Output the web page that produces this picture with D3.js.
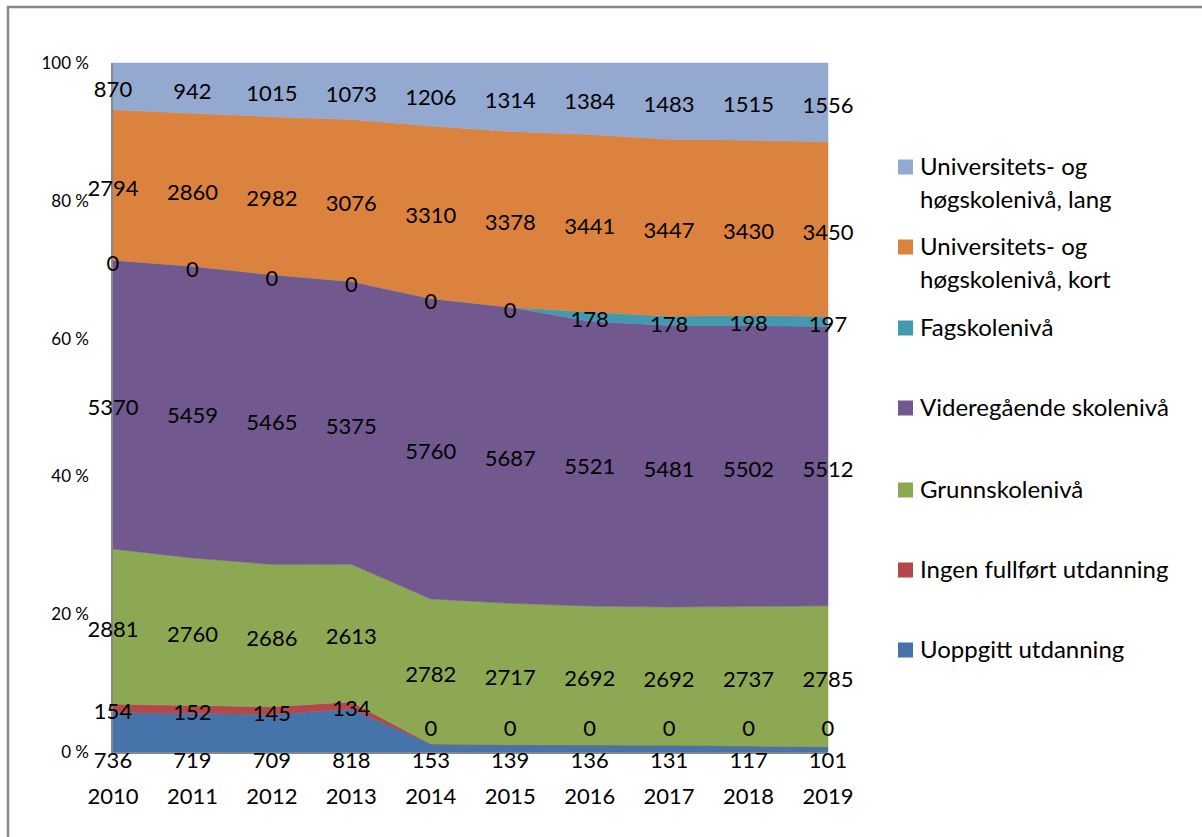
<html>
<head>
<meta charset="utf-8">
<title>Utdanningsnivå 2010-2019</title>
<style>
body { margin: 0; background: #fff; }
text { font-family: Lato, "Open Sans", sans-serif; fill: #000; }
</style>
</head>
<body>

<script src="https://cdn.jsdelivr.net/npm/d3@7/dist/d3.min.js"></script>
<script>

// data
var years = ["2010", "2011", "2012", "2013", "2014", "2015", "2016", "2017", "2018", "2019"];
var uoppgitt     = [736, 719, 709, 818, 153, 139, 136, 131, 117, 101];
var ingen        = [154, 152, 145, 134, 0, 0, 0, 0, 0, 0];
var grunnskole   = [2881, 2760, 2686, 2613, 2782, 2717, 2692, 2692, 2737, 2785];
var videregaende = [5370, 5459, 5465, 5375, 5760, 5687, 5521, 5481, 5502, 5512];
var fagskole     = [0, 0, 0, 0, 0, 0, 178, 178, 198, 197];
var uhKort       = [2794, 2860, 2982, 3076, 3310, 3378, 3441, 3447, 3430, 3450];
var uhLang       = [870, 942, 1015, 1073, 1206, 1314, 1384, 1483, 1515, 1556];

var seriesKeys  = ["uoppgitt", "ingen", "grunnskole", "videregaende", "fagskole", "uhKort", "uhLang"];
var seriesNames = [["Uoppgitt utdanning"], ["Ingen fullført utdanning"], ["Grunnskolenivå"],
                   ["Videregående skolenivå"], ["Fagskolenivå"],
                   ["Universitets- og", "høgskolenivå, kort"], ["Universitets- og", "høgskolenivå, lang"]];
var colors = ["#4673a9", "#b2484a", "#8ca852", "#71588f", "#4399b0", "#db823e", "#93a9d0"];
var yTicks = [0, 0.2, 0.4, 0.6, 0.8, 1];

// build rows for d3.stack
var table = years.map(function(y, i){
	return { year: y, uoppgitt: uoppgitt[i], ingen: ingen[i], grunnskole: grunnskole[i],
		videregaende: videregaende[i], fagskole: fagskole[i], uhKort: uhKort[i], uhLang: uhLang[i] };
});

var width = 1202, height = 837;
var svg = d3.select("body").append("svg")
			.attr("width", width)
			.attr("height", height);

// outer frame
svg.append("rect")
	.attr("x", 8).attr("y", 7)
	.attr("width", width).attr("height", height)
	.attr("fill", "none")
	.attr("stroke", "#878787")
	.attr("stroke-width", 2.5);

var x = d3.scalePoint().domain(years).range([113, 828]);
var y = d3.scaleLinear().domain([0, 1]).range([752, 63]);

var stacked = d3.stack().keys(seriesKeys).offset(d3.stackOffsetExpand)(table);

var area = d3.area()
	.x(function(d){ return x(d.data.year); })
	.y0(function(d){ return y(d[0]); })
	.y1(function(d){ return y(d[1]); });

svg.append("g").selectAll("path")
	.data(stacked)
	.enter().append("path")
	.attr("d", area)
	.attr("fill", function(d, i){ return colors[i]; })
	.attr("stroke", function(d, i){ return colors[i]; })
	.attr("stroke-width", 0.5);

// axis lines
svg.append("line").attr("x1", 112).attr("x2", 112).attr("y1", y(1)).attr("y2", y(0) + 1)
	.attr("stroke", "#878787").attr("stroke-width", 2);
svg.append("line").attr("x1", 112).attr("x2", 828).attr("y1", y(0) + 1).attr("y2", y(0) + 1)
	.attr("stroke", "#878787").attr("stroke-width", 2);

// y tick labels
svg.append("g").selectAll("text")
	.data(yTicks)
	.enter().append("text")
	.attr("x", 89)
	.attr("y", function(d){ return y(d); })
	.attr("dy", "0.35em")
	.attr("text-anchor", "end")
	.attr("font-size", "17px")
	.text(function(d){ return Math.round(d * 100) + " %"; });

// year labels
svg.append("g").selectAll("text")
	.data(years)
	.enter().append("text")
	.attr("x", function(d){ return x(d); })
	.attr("y", 796)
	.attr("dy", "0.35em")
	.attr("text-anchor", "middle")
	.attr("font-size", "22px")
	.text(function(d){ return d; });

// data labels
stacked.forEach(function(s, k){
	svg.append("g").selectAll("text")
		.data(s)
		.enter().append("text")
		.attr("x", function(d){ return x(d.data.year); })
		.attr("y", function(d){
			var mid = y((d[0] + d[1]) / 2) + 3;
			if (k == 0) return y(0) + 8;			// bottom series sits below the axis
			if (k == 1) return Math.min(mid, y(0) - 24);
			return mid;
		})
		.attr("dy", "0.35em")
		.attr("text-anchor", "middle")
		.attr("font-size", "22px")
		.text(function(d){ return d.data[s.key]; });
});

// legend (top item = last series)
var legendTop = [167, 247, 328, 408, 490, 570, 650];
var legend = svg.append("g").selectAll("g")
	.data(seriesKeys.slice().reverse())
	.enter().append("g")
	.attr("transform", function(d, i){ return "translate(898," + legendTop[i] + ")"; });

legend.append("rect")
	.attr("x", 0).attr("y", -7.5)
	.attr("width", 15).attr("height", 15)
	.attr("fill", function(d){ return colors[seriesKeys.indexOf(d)]; });

legend.append("text")
	.attr("x", 22)
	.attr("font-size", "24px")
	.selectAll("tspan")
	.data(function(d){ return seriesNames[seriesKeys.indexOf(d)]; })
	.enter().append("tspan")
	.attr("x", 22)
	.attr("y", function(d, i){ return i * 33; })
	.attr("dy", "0.35em")
	.text(function(d){ return d; });

</script>
</body>
</html>
